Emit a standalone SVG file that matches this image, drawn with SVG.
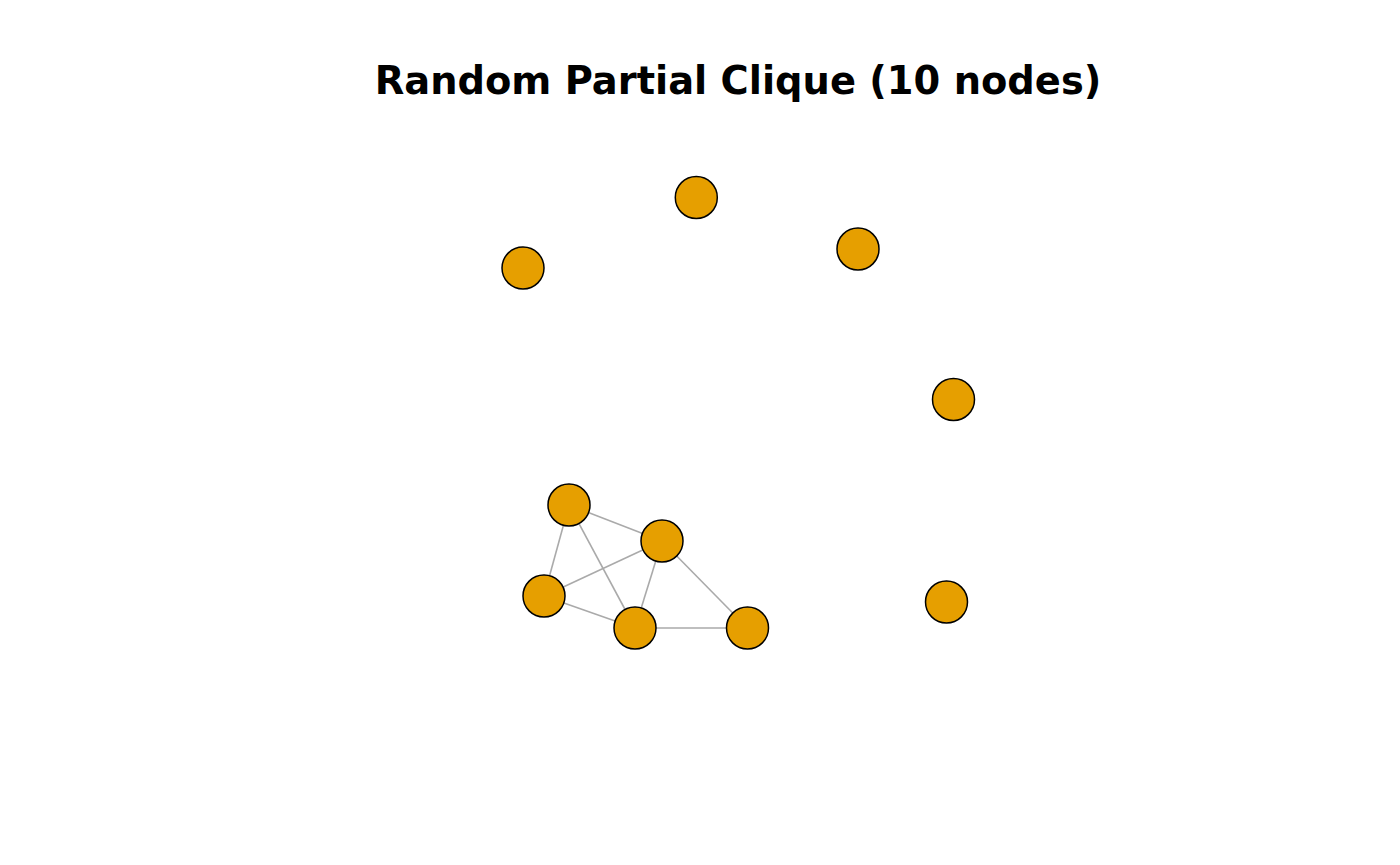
<svg xmlns="http://www.w3.org/2000/svg" width="1400" height="865" viewBox="0 0 1400 865">
<style>
.node{fill:#E69F00;stroke:#000;stroke-width:1.5}
.edge{stroke:#AAAAAA;stroke-width:1.6;fill:none}
.title{font-family:"DejaVu Sans",sans-serif;font-weight:bold;font-size:38.4px;fill:#000}
</style>
<rect width="1400" height="865" fill="#fff"/>
<text class="title" x="738" y="94" text-anchor="middle">Random Partial Clique (10 nodes)</text>
<g id="edges">
<line class="edge" x1="569" y1="505" x2="662" y2="541"/>
<line class="edge" x1="569" y1="505" x2="544" y2="596"/>
<line class="edge" x1="569" y1="505" x2="635" y2="628"/>
<line class="edge" x1="662" y1="541" x2="544" y2="596"/>
<line class="edge" x1="662" y1="541" x2="635" y2="628"/>
<line class="edge" x1="662" y1="541" x2="747.5" y2="628"/>
<line class="edge" x1="544" y1="596" x2="635" y2="628"/>
<line class="edge" x1="635" y1="628" x2="747.5" y2="628"/>
</g>
<g id="n1"><circle class="node" cx="696.3" cy="197.5" r="21"/></g>
<g id="n2"><circle class="node" cx="523" cy="268" r="21"/></g>
<g id="n3"><circle class="node" cx="858" cy="249" r="21"/></g>
<g id="n4"><circle class="node" cx="953.5" cy="399.5" r="21"/></g>
<g id="n5"><circle class="node" cx="569" cy="505" r="21"/></g>
<g id="n6"><circle class="node" cx="662" cy="541" r="21"/></g>
<g id="n7"><circle class="node" cx="544" cy="596" r="21"/></g>
<g id="n8"><circle class="node" cx="635" cy="628" r="21"/></g>
<g id="n9"><circle class="node" cx="747.5" cy="628" r="21"/></g>
<g id="n10"><circle class="node" cx="946.5" cy="602" r="21"/></g>
</svg>
